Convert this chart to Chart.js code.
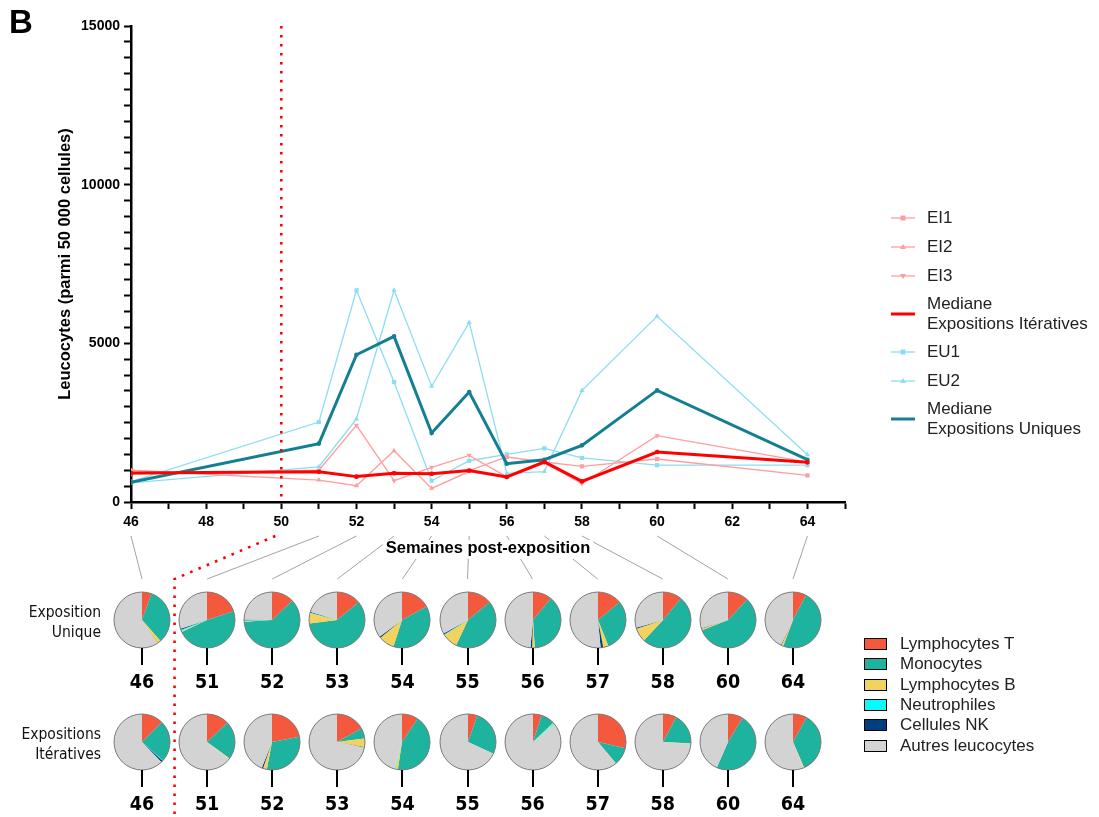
<!DOCTYPE html>
<html>
<head>
<meta charset="utf-8">
<script src="https://cdn.jsdelivr.net/npm/chart.js@4.4.1/dist/chart.umd.min.js"></script>
<style>
  html, body { margin: 0; padding: 0; background: #fff; }
  #page { position: relative; width: 1099px; height: 817px; overflow: hidden; font-family: "Liberation Sans", Arial, sans-serif; }
  #main { position: absolute; left: 0; top: 0; }
  .letter { position: absolute; left: 9px; top: 3px; font: bold 33px "Liberation Sans", Arial, sans-serif; color: #000; }
  .rowlab { position: absolute; left: 0; width: 101px; text-align: right; font: 15.5px "DejaVu Sans Condensed", "DejaVu Sans", sans-serif; line-height: 19.5px; color: #111; }
  .wk { position: absolute; width: 50px; text-align: center; font: bold 19.5px "DejaVu Sans Condensed", "DejaVu Sans", sans-serif; color: #000; line-height: 22px; }
  .stem { position: absolute; width: 2px; background: #000; }
  .pie { position: absolute; }
  #lineLegend { position: absolute; left: 891px; top: 203px; }
  .li { display: flex; align-items: center; font-size: 17px; color: #222; line-height: 19.5px; }
  .li svg { flex: none; margin-right: 12px; }
  #pieLegend { position: absolute; left: 864px; top: 634px; }
  .pi { display: flex; align-items: center; height: 20.3px; font-size: 17px; color: #222; }
  .pi span.box { width: 21px; height: 10px; border: 1px solid #000; margin-right: 13px; }
</style>
</head>
<body>
<div id="page">
  <canvas id="main" width="1099" height="817"></canvas>
  <div class="letter">B</div>
  <div class="rowlab" style="top:603px">Exposition<br>Unique</div>
  <div class="rowlab" style="top:725px">Expositions<br>Itératives</div>
  <div id="lineLegend"></div>
  <div id="pieLegend"></div>
</div>
<script>
// semaines post-exposition
const weeks = [46, 51, 52, 53, 54, 55, 56, 57, 58, 60, 64];

// leucocytes (parmi 50 000 cellules)
const ei1 = [920, 950, 790, 913, 892, 986, 1418, 1260, 1123, 1355, 838];
const ei2 = [1000, 690, 514, 1617, 430, 960, 780, 1290, 650, 1575, 1250];
const ei3 = [880, 1000, 2415, 671, 1091, 1470, 790, 1240, 577, 2090, 1260];
const eiMedian = [913, 955, 800, 905, 890, 990, 788, 1260, 650, 1575, 1250];
const eu1 = [640, 2520, 6670, 3780, 670, 1300, 1500, 1690, 1390, 1160, 1160];
const eu2 = [600, 1110, 2615, 6670, 3644, 5660, 900, 960, 3517, 5850, 1490];
const euMedian = [621, 1840, 4640, 5220, 2175, 3467, 1207, 1333, 1785, 3517, 1333];

// composition (%) - Exposition Unique
const cellTypes = ["Lymphocytes T", "Monocytes", "Lymphocytes B", "Neutrophiles", "Cellules NK", "Autres leucocytes"];
const euLymphoT = [5.5, 20, 13, 14, 17, 14, 11, 14, 11, 12, 7.7];
const euMono = [33, 48, 61, 59, 38, 43, 38, 30, 51, 57, 48];
const euLymphoB = [2, 0.5, 0.5, 6, 9, 9, 1.5, 3, 8, 1, 1.2];
const euNeutro = [0, 0.8, 0.3, 0.3, 0, 0.4, 0, 0, 0, 0, 0];
const euNK = [0.2, 0.7, 0.5, 0.5, 0.8, 0.6, 1, 1.5, 0.6, 0.3, 0.3];
const euAutres = [59.3, 30, 24.7, 20.2, 35.2, 33, 48.5, 51.5, 29.4, 29.7, 42.8];

// composition (%) - Expositions Itératives
const eiLymphoT = [12.5, 13, 22, 17, 9.4, 5.4, 5, 28.6, 7.8, 8.6, 8];
const eiMono = [24, 22, 31, 6, 43, 26.5, 8, 10.3, 18, 48, 35.5];
const eiLymphoB = [0, 0.6, 2.2, 5, 1.5, 0, 0.5, 0, 0.3, 0, 0.4];
const eiNeutro = [0.3, 0, 0, 0, 0.4, 0, 0.5, 0, 0, 0, 0];
const eiNK = [1, 0, 0.8, 0.3, 0, 0, 0, 0, 0, 0, 0];
const eiAutres = [62.2, 64.4, 44, 71.7, 45.7, 68.1, 86, 61.1, 73.9, 43.4, 56.1];

const FONT = '"Liberation Sans", Arial, sans-serif';
const pieColors = ["#F5593D", "#1DB39E", "#F2D35E", "#00FFFF", "#003F7F", "#D3D3D3"];
const eiColor = "#FF9E9E";
const euColor = "#8CDDF3";
const eiMedColor = "#FF0000";
const euMedColor = "#147F93";
const xTitle = "Semaines post-exposition";

// pies layout
const pieX = (i) => 142 + i * 65.1;
const pieRowY = [620, 742];
const pieR = 28;

Chart.defaults.font.family = FONT;
Chart.defaults.color = "#000";

const pts = (arr) => weeks.map((w, i) => ({ x: w, y: arr[i] }));

const thin = (label, data, color, style, rot) => ({
  label: label,
  data: pts(data),
  borderColor: color,
  backgroundColor: color,
  borderWidth: 1.3,
  pointStyle: style,
  pointRotation: rot || 0,
  pointRadius: 3,
  pointBorderWidth: 0,
  tension: 0,
  order: 3,
});

const datasets = [
  thin("EI1", ei1, eiColor, "rect"),
  thin("EI2", ei2, eiColor, "triangle"),
  thin("EI3", ei3, eiColor, "triangle", 180),
  { label: "Mediane Expositions Itératives", data: pts(eiMedian), borderColor: eiMedColor, backgroundColor: eiMedColor,
    borderWidth: 3, pointRadius: 0.8, tension: 0, order: 0 },
  thin("EU1", eu1, euColor, "rect"),
  thin("EU2", eu2, euColor, "triangle"),
  { label: "Mediane Expositions Uniques", data: pts(euMedian), borderColor: euMedColor, backgroundColor: euMedColor,
    borderWidth: 3, pointRadius: 0.8, tension: 0, order: 1 },
];

const annotations = {
  id: "annotations",
  beforeDraw(chart) {
    const ctx = chart.ctx;
    const xs = chart.scales.x;
    const area = chart.chartArea;
    ctx.save();
    ctx.strokeStyle = "#8c8c8c";
    ctx.lineWidth = 0.8;
    weeks.forEach((w, i) => {
      ctx.beginPath();
      ctx.moveTo(xs.getPixelForValue(w), 536);
      ctx.lineTo(pieX(i), 579);
      ctx.stroke();
    });
    // white box behind the x title
    ctx.font = "bold 16.5px " + FONT;
    const tw = ctx.measureText(xTitle).width;
    ctx.fillStyle = "#fff";
    ctx.fillRect((area.left + area.right) / 2 - tw / 2 - 3, 540, tw + 6, 19);
    ctx.restore();
  },
  afterDatasetsDraw(chart) {
    const ctx = chart.ctx;
    const xs = chart.scales.x;
    const area = chart.chartArea;
    const x50 = xs.getPixelForValue(50);
    const xMid = (pieX(0) + pieX(1)) / 2;
    ctx.save();
    ctx.strokeStyle = "#FF0000";
    ctx.lineWidth = 2.6;
    ctx.setLineDash([2.6, 6.4]);
    ctx.beginPath();
    ctx.moveTo(x50, area.top);
    ctx.lineTo(x50, area.bottom);
    ctx.stroke();
    ctx.beginPath();
    ctx.moveTo(x50 - 6, 536);
    ctx.lineTo(xMid, 579);
    ctx.lineTo(xMid, 817);
    ctx.stroke();
    ctx.restore();
  },
};

new Chart(document.getElementById("main"), {
  type: "line",
  data: { datasets: datasets },
  options: {
    responsive: false,
    animation: false,
    events: [],
    layout: { padding: { left: 0, right: 254, top: 26, bottom: 259 } },
    plugins: { legend: { display: false }, tooltip: { enabled: false } },
    scales: {
      x: {
        type: "linear",
        min: 46,
        max: 65,
        border: { color: "#000", width: 2.5 },
        grid: { drawOnChartArea: false, tickLength: 7, tickColor: "#000", tickWidth: 2 },
        ticks: {
          stepSize: 1,
          autoSkip: false,
          maxTicksLimit: 100,
          maxRotation: 0,
          padding: 5,
          color: "#000",
          font: { size: 14, weight: "bold" },
          callback: (v) => (v % 2 === 0 ? v : ""),
        },
        title: { display: true, text: xTitle, color: "#000", font: { size: 16.5, weight: "bold" }, padding: { top: 0, bottom: 0 } },
        afterFit: (s) => { s.height = 56; },
      },
      y: {
        min: 0,
        max: 15000,
        border: { color: "#000", width: 2.5 },
        grid: { drawOnChartArea: false, tickLength: 7, tickColor: "#000", tickWidth: 2 },
        ticks: {
          stepSize: 500,
          autoSkip: false,
          maxTicksLimit: 100,
          padding: 4,
          color: "#000",
          font: { size: 14, weight: "bold" },
          callback: (v) => (v % 5000 === 0 ? v : ""),
        },
        title: { display: true, text: "Leucocytes (parmi 50 000 cellules)", color: "#000",
          font: { size: 16.5, weight: "bold" }, padding: { top: 56, bottom: 0 } },
        afterFit: (s) => { s.width = 131; },
      },
    },
  },
  plugins: [annotations],
});

// line legend
const lineLegend = document.getElementById("lineLegend");
const swatch = (ds) => {
  const c = ds.borderColor;
  let m = "";
  if (ds.pointStyle === "rect") m = `<rect x="9.5" y="3.5" width="5" height="5" fill="${c}"/>`;
  else if (ds.pointStyle === "triangle" && ds.pointRotation) m = `<polygon points="9,4 15,4 12,9" fill="${c}"/>`;
  else if (ds.pointStyle === "triangle") m = `<polygon points="9,8 15,8 12,3" fill="${c}"/>`;
  return `<svg width="24" height="12"><line x1="0" y1="6" x2="24" y2="6" stroke="${c}" stroke-width="${ds.borderWidth}"/>${m}</svg>`;
};
datasets.forEach((ds) => {
  const words = ds.label.startsWith("Mediane") ? ["Mediane", ds.label.slice(8)] : [ds.label];
  const d = document.createElement("div");
  d.className = "li";
  d.style.height = words.length === 1 ? "29px" : "47px";
  d.innerHTML = swatch(ds) + "<div>" + words.join("<br>") + "</div>";
  lineLegend.appendChild(d);
});

// pie legend
const pieLegend = document.getElementById("pieLegend");
cellTypes.forEach((t, i) => {
  const d = document.createElement("div");
  d.className = "pi";
  d.innerHTML = `<span class="box" style="background:${pieColors[i]}"></span>${t}`;
  pieLegend.appendChild(d);
});

// pies
const ring = {
  id: "ring",
  afterDatasetsDraw(chart) {
    const arc = chart.getDatasetMeta(0).data[0];
    const ctx = chart.ctx;
    ctx.save();
    ctx.beginPath();
    ctx.arc(arc.x, arc.y, arc.outerRadius, 0, Math.PI * 2);
    ctx.strokeStyle = "#7a7a7a";
    ctx.lineWidth = 1;
    ctx.stroke();
    ctx.restore();
  },
};

const page = document.getElementById("page");
const rows = [
  [euLymphoT, euMono, euLymphoB, euNeutro, euNK, euAutres],
  [eiLymphoT, eiMono, eiLymphoB, eiNeutro, eiNK, eiAutres],
];
rows.forEach((cols, r) => {
  const cy = pieRowY[r];
  weeks.forEach((w, i) => {
    const cx = pieX(i);
    const size = 2 * pieR + 6;
    const c = document.createElement("canvas");
    c.className = "pie";
    c.width = size;
    c.height = size;
    c.style.left = cx - size / 2 + "px";
    c.style.top = cy - size / 2 + "px";
    page.appendChild(c);
    new Chart(c, {
      type: "pie",
      data: { labels: cellTypes, datasets: [{ data: cols.map((a) => a[i]), backgroundColor: pieColors, borderWidth: 0 }] },
      options: {
        responsive: false,
        animation: false,
        events: [],
        layout: { padding: 3 },
        plugins: { legend: { display: false }, tooltip: { enabled: false } },
      },
      plugins: [ring],
    });
    const stem = document.createElement("div");
    stem.className = "stem";
    stem.style.left = cx - 1 + "px";
    stem.style.top = cy + pieR + "px";
    stem.style.height = "17px";
    page.appendChild(stem);
    const lab = document.createElement("div");
    lab.className = "wk";
    lab.style.left = cx - 25 + "px";
    lab.style.top = cy + 51 + "px";
    lab.textContent = w;
    page.appendChild(lab);
  });
});
</script>
</body>
</html>
